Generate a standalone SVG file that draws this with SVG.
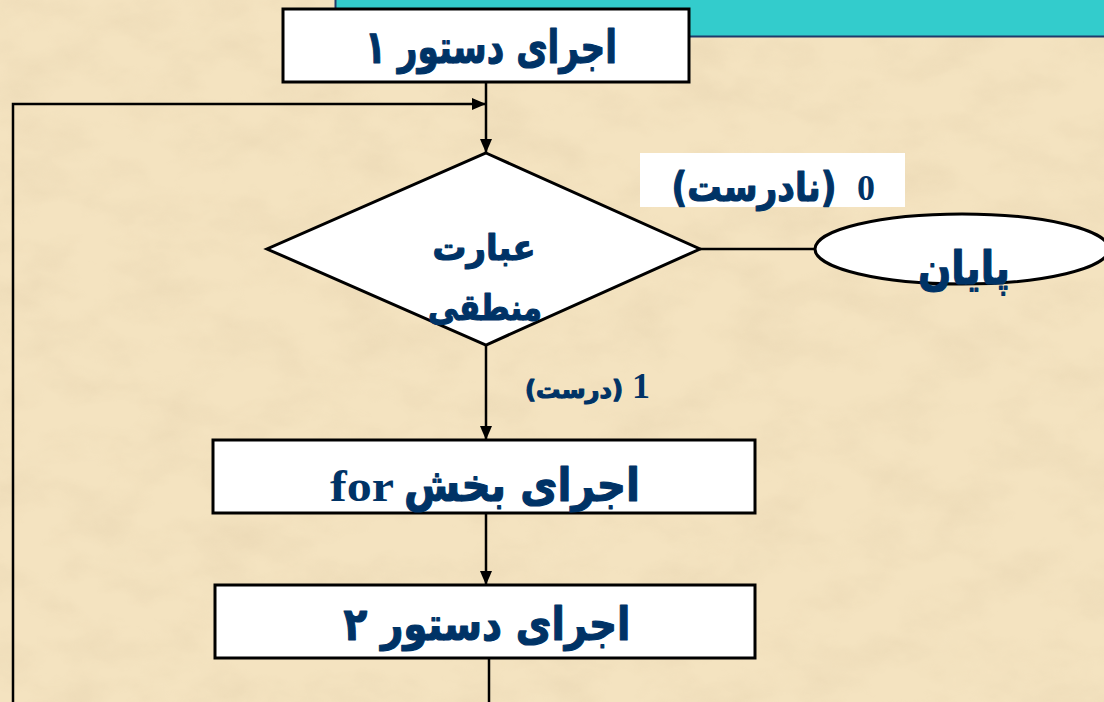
<svg xmlns="http://www.w3.org/2000/svg" width="1104" height="702" viewBox="0 0 1104 702">
<defs>
<style>
.box{fill:#ffffff;stroke:#000000;stroke-width:3}
.ln{fill:none;stroke:#000000;stroke-width:2.5}
.fa{font-family:"DejaVu Sans","Noto Sans",sans-serif;font-weight:bold;fill:#003366;stroke:#003366;stroke-width:1.2;stroke-linejoin:round}
.se{font-family:"Liberation Serif","DejaVu Serif",serif;font-weight:bold;fill:#003366}
</style>
<marker id="arr" viewBox="0 0 14 12" refX="14" refY="6" markerWidth="14" markerHeight="12" markerUnits="userSpaceOnUse" orient="auto">
<path d="M0,0 L14,6 L0,12 Z" fill="#000000"/>
</marker>
<filter id="tex" x="0" y="0" width="100%" height="100%">
<feTurbulence type="fractalNoise" baseFrequency="0.015 0.025" numOctaves="4" seed="7" result="n"/>
<feColorMatrix in="n" type="matrix" values="0 0 0 0 0.80  0 0 0 0 0.66  0 0 0 0 0.44  2 0 0 0 -0.8"/>
</filter>
</defs>
<rect x="0" y="0" width="1104" height="702" fill="#F4E3C0"/>
<rect x="0" y="0" width="1104" height="702" filter="url(#tex)" opacity="0.5"/>
<g id="banner">
<rect x="335" y="0" width="769" height="37" fill="#33CCCC"/>
<path d="M335.5,0 V36.5 H1104" fill="none" stroke="#1F3A6B" stroke-width="2"/>
</g>
<g id="connectors">
<line class="ln" x1="486" y1="82" x2="486" y2="153" marker-end="url(#arr)"/>
<polyline class="ln" points="13,702 13,104 486,104" marker-end="url(#arr)"/>
<line class="ln" x1="700" y1="249" x2="816" y2="249"/>
<line class="ln" x1="486" y1="345" x2="486" y2="440" marker-end="url(#arr)"/>
<line class="ln" x1="486" y1="513" x2="486" y2="585" marker-end="url(#arr)"/>
<line class="ln" x1="489" y1="658" x2="489" y2="702"/>
</g>
<g id="stmt1">
<rect class="box" x="283" y="9" width="406" height="73"/>
<text class="fa" x="491" y="63" font-size="46" text-anchor="middle" direction="rtl" textLength="252" lengthAdjust="spacingAndGlyphs">اجرای دستور ۱</text>
</g>
<g id="decision">
<polygon class="box" points="486,153 700,249 486,345 267,249" stroke-width="2.5"/>
<text class="fa" x="484" y="260" font-size="36" text-anchor="middle" direction="rtl" textLength="103" lengthAdjust="spacingAndGlyphs">عبارت</text>
<text class="fa" x="485" y="320" font-size="36" text-anchor="middle" direction="rtl" textLength="114" lengthAdjust="spacingAndGlyphs">منطقی</text>
</g>
<g id="label-false">
<rect x="640" y="153" width="265" height="54" fill="#ffffff"/>
<text class="fa" transform="translate(754 201) scale(0.86 1)" x="0" y="0" font-size="40" text-anchor="middle" direction="rtl">(نادرست)</text>
<text class="se" x="866" y="200" font-size="36" text-anchor="middle">0</text>
</g>
<g id="end">
<ellipse class="box" cx="962" cy="249" rx="147" ry="35" stroke-width="2.5"/>
<text class="fa" x="964" y="284" font-size="46" text-anchor="middle" direction="rtl" textLength="92" lengthAdjust="spacingAndGlyphs">پایان</text>
</g>
<g id="label-true">
<text class="fa" x="574" y="398" font-size="24" text-anchor="middle" direction="rtl" textLength="98" lengthAdjust="spacingAndGlyphs" stroke-width="0.6">(درست)</text>
<text class="se" x="641" y="398" font-size="36" text-anchor="middle">1</text>
</g>
<g id="body">
<rect class="box" x="213" y="440" width="542" height="73"/>
<text class="fa" x="522" y="501" font-size="46" text-anchor="middle" direction="rtl" textLength="236" lengthAdjust="spacingAndGlyphs">اجرای بخش</text>
<text class="se" x="362" y="501" font-size="44" text-anchor="middle" textLength="64" lengthAdjust="spacingAndGlyphs">for</text>
</g>
<g id="stmt2">
<rect class="box" x="215" y="585" width="540" height="73"/>
<text class="fa" x="487" y="640" font-size="46" text-anchor="middle" direction="rtl" textLength="287" lengthAdjust="spacingAndGlyphs">اجرای دستور ۲</text>
</g>
</svg>
